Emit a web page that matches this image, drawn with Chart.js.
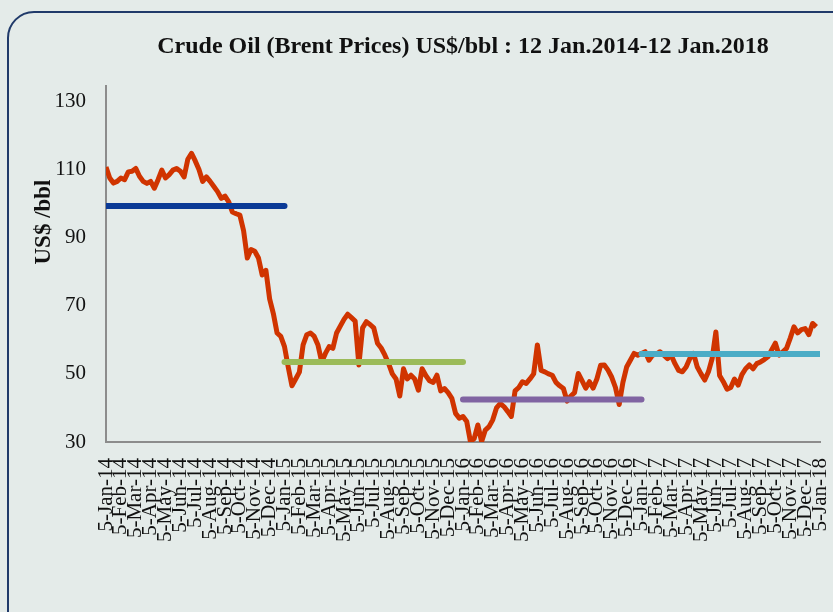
<!DOCTYPE html>
<html>
<head>
<meta charset="utf-8">
<script src="https://cdn.jsdelivr.net/npm/chart.js@4/dist/chart.umd.min.js"></script>
<style>
  html, body { margin: 0; padding: 0; background: #e4ebe9; }
  #wrap { position: relative; width: 833px; height: 612px; }
</style>
</head>
<body>
<div id="wrap"><canvas id="chart" width="833" height="612"></canvas></div>
<script>
const chartTitle = 'Crude Oil (Brent Prices) US$/bbl : 12 Jan.2014-12 Jan.2018';
const yAxisTitle = 'US$ /bbl';

const monthTicks = [
  '5-Jan-14', '5-Feb-14', '5-Mar-14', '5-Apr-14', '5-May-14', '5-Jun-14', '5-Jul-14', '5-Aug-14', '5-Sep-14', '5-Oct-14', '5-Nov-14', '5-Dec-14',
  '5-Jan-15', '5-Feb-15', '5-Mar-15', '5-Apr-15', '5-May-15', '5-Jun-15', '5-Jul-15', '5-Aug-15', '5-Sep-15', '5-Oct-15', '5-Nov-15', '5-Dec-15',
  '5-Jan-16', '5-Feb-16', '5-Mar-16', '5-Apr-16', '5-May-16', '5-Jun-16', '5-Jul-16', '5-Aug-16', '5-Sep-16', '5-Oct-16', '5-Nov-16', '5-Dec-16',
  '5-Jan-17', '5-Feb-17', '5-Mar-17', '5-Apr-17', '5-May-17', '5-Jun-17', '5-Jul-17', '5-Aug-17', '5-Sep-17', '5-Oct-17', '5-Nov-17', '5-Dec-17',
  '5-Jan-18'
];

const yTicks = [30, 50, 70, 90, 110, 130];

// Brent price, one reading per quarter month from 5-Jan-14
const prices = [
  110.7, 107.5, 106, 106.5, 107.5, 107, 109.3, 109.5,
  110.3, 108, 106.5, 105.9, 106.5, 104.5, 107, 109.8,
  107.5, 108.5, 109.8, 110.3, 109.5, 107.8, 113, 114.7,
  112.5, 110, 106.5, 107.8, 106.5, 105, 103.5, 101.5,
  102.2, 100.5, 97.5, 97, 96.6, 92, 84, 86.5,
  86, 84, 79, 80.4, 72, 67.7, 62, 61,

  58, 52, 46.5, 48.5, 50.5, 58.5, 61.5, 62,
  61, 58.5, 53.5, 56, 58, 57.5, 62, 64,
  66, 67.5, 66.5, 65.5, 52.6, 63.5, 65.3, 64.5,
  63.5, 59, 57.6, 55.5, 53, 50, 48.5, 43.5,
  51.5, 48.5, 49.6, 48.5, 45.2, 51.5, 49.5, 48,
  47.5, 49.6, 45, 45.7, 44.5, 42.8, 38.4, 37,

  37.5, 36, 30.1, 31, 35, 30.1, 33.5, 34.5,
  36.5, 40, 41.3, 40.4, 39, 37.5, 45, 46,
  47.7, 47.2, 48.5, 50, 58.5, 51, 50.6, 50,
  49.6, 47.5, 46.5, 45.7, 42, 43.5, 44.5, 50.1,
  48, 45.8, 47.7, 45.8, 48.5, 52.5, 52.6, 51.1,
  49, 46, 41, 47.5, 52, 54, 56, 55.5,

  56, 56.5, 54, 55.5, 55.8, 56.5, 55.5, 54.5,
  55.5, 53, 51, 50.6, 52, 54.5, 56, 52,
  50, 48.2, 50.6, 54.5, 62.3, 49.5, 47.7, 45.5,
  46, 48.5, 46.7, 49.8, 51.5, 52.6, 51.5, 53,
  53.5, 54.2, 55, 57, 59, 55.5, 56.5, 57.5,
  60.5, 63.8, 62, 63, 63.3, 61.5, 64.8, 63.8
];

// yearly averages and the month index where each year starts/ends
const yearBounds = [0, 12, 24, 36, 48];
const yearAverages = [99.3, 53.5, 42.5, 55.8];
const averageColors = ['#0a3a96', '#9bbb59', '#8064a2', '#4bacc6'];

const serif = "'Liberation Serif', 'DejaVu Serif', serif";

const pricePoints = prices.map((p, i) => ({ x: i / 4, y: p }));

const averageSets = yearAverages.map((avg, i) => ({
  label: 'Average ' + monthTicks[yearBounds[i]].slice(-2),
  data: [{ x: yearBounds[i], y: avg }, { x: yearBounds[i + 1], y: avg }],
  borderColor: averageColors[i],
  borderWidth: 6,
  borderCapStyle: 'round',
  pointRadius: 0,
  fill: false,
  order: 0
}));

const panelPlugin = {
  id: 'panel',
  beforeDraw(chart) {
    const ctx = chart.ctx;
    ctx.save();
    ctx.fillStyle = '#e4ebe9';
    ctx.fillRect(0, 0, chart.width, chart.height);
    ctx.strokeStyle = '#203a6a';
    ctx.lineWidth = 2;
    ctx.beginPath();
    ctx.roundRect(8, 12, chart.width + 30, chart.height + 30, 26);
    ctx.stroke();
    ctx.restore();
  },
  afterDraw(chart) {
    const ctx = chart.ctx;
    const area = chart.chartArea;
    ctx.save();
    ctx.fillStyle = '#111';
    ctx.textAlign = 'center';
    ctx.textBaseline = 'middle';
    ctx.font = 'bold 24px ' + serif;
    ctx.fillText(chartTitle, (area.left + area.right) / 2, 47);
    ctx.translate(44, 222);
    ctx.rotate(-Math.PI / 2);
    ctx.font = 'bold 23px ' + serif;
    ctx.fillText(yAxisTitle, 0, 0);
    ctx.restore();
  }
};

new Chart(document.getElementById('chart'), {
  type: 'line',
  data: {
    datasets: [
      ...averageSets,
      {
        label: 'Brent',
        data: pricePoints,
        borderColor: '#d03400',
        borderWidth: 5,
        borderJoinStyle: 'round',
        pointRadius: 0,
        tension: 0,
        fill: false,
        order: 1
      }
    ]
  },
  options: {
    responsive: false,
    animation: false,
    layout: { padding: { top: 86, right: 13, left: 0, bottom: 0 } },
    plugins: {
      legend: { display: false },
      tooltip: { enabled: false }
    },
    scales: {
      x: {
        type: 'linear',
        min: 0,
        max: 48,
        afterBuildTicks: (scale) => { scale.ticks = monthTicks.map((_, i) => ({ value: i })); },
        afterFit: (scale) => {
          scale.height = 170;
          scale.paddingLeft = 0;
          scale.paddingRight = 0;
        },
        grid: { display: false, drawTicks: false },
        border: { color: '#8c8c8c', width: 2 },
        ticks: {
          autoSkip: false,
          minRotation: 90,
          maxRotation: 90,
          padding: 16,
          color: '#111',
          font: { family: serif, size: 21 },
          callback: (v) => monthTicks[v]
        }
      },
      y: {
        min: 30,
        max: 134.5,
        afterBuildTicks: (scale) => { scale.ticks = yTicks.map(v => ({ value: v })); },
        afterFit: (scale) => {
          scale.width = 106;
          scale.paddingTop = 0;
          scale.paddingBottom = 0;
        },
        grid: { display: false, drawTicks: false },
        border: { color: '#8c8c8c', width: 2 },
        ticks: {
          padding: 20,
          color: '#111',
          font: { family: serif, size: 21 }
        }
      }
    }
  },
  plugins: [panelPlugin]
});
</script>
</body>
</html>
